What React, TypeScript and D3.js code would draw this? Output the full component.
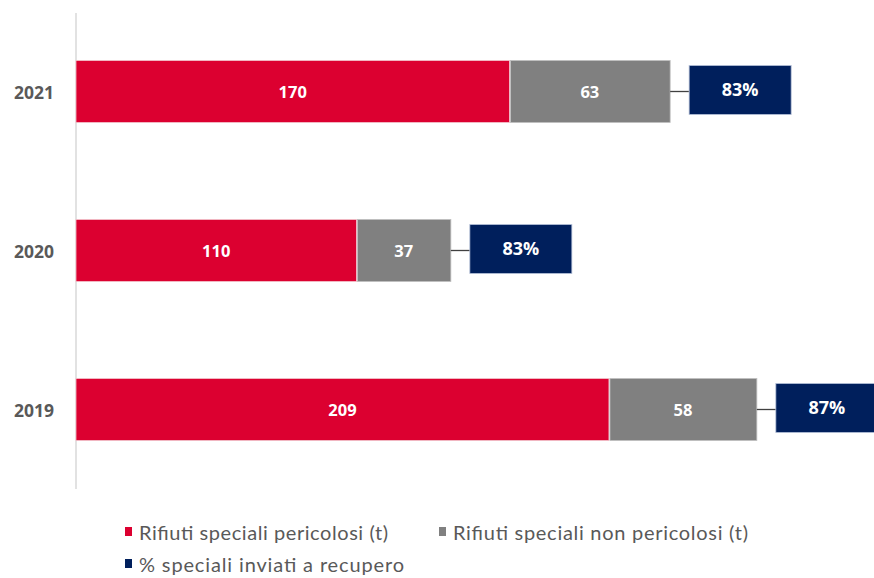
import React from "react";
import * as d3 from "d3";

const years = ["2021", "2020", "2019"];
const pericolosi = [170, 110, 209];
const nonPericolosi = [63, 37, 58];
const recupero = [83, 83, 87];
const legendLabels = [
  "Rifiuti speciali pericolosi (t)",
  "Rifiuti speciali non pericolosi (t)",
  "% speciali inviati a recupero",
];
const colors = ["#DC0030", "#808080", "#001F5C"];

export default function App() {
  const W = 874;
  const H = 578;
  const x0 = 76;
  const x = d3.scaleLinear().domain([0, 300]).range([x0, x0 + 765]);
  const y = d3.scaleBand().domain(years).range([12, 489]).paddingInner(0.61).paddingOuter(0.305);
  const bw = y.bandwidth();
  const labelFont = "'Open Sans', 'DejaVu Sans', sans-serif";
  const legendFont = "'Lato', 'DejaVu Sans', sans-serif";
  const legendPos = [
    [125, 532, 249],
    [439, 532, 295],
    [125, 564, 265],
  ];

  return (
    <svg width={W} height={H} style={{ position: "absolute", left: 0, top: 0, background: "#fff" }}>
      <line x1={x0} x2={x0} y1={13} y2={489} stroke="#d9d9d9" strokeWidth={1.5} />
      {years.map((yr, i) => {
        const yy = y(yr) as number;
        const cy = yy + bw / 2;
        const xr = x(pericolosi[i]);
        const xg = x(pericolosi[i] + nonPericolosi[i]);
        const bx = xg + 19;
        const bwid = 102;
        return (
          <g key={yr}>
            <text x={54} y={cy} textAnchor="end" dominantBaseline="central" fontFamily={labelFont} fontWeight={700} fontSize={17.5} fill="#595959">{yr}</text>
            <rect x={x(0)} y={yy} width={xr - x(0)} height={bw} fill={colors[0]} stroke="#f2c4cc" strokeWidth={0.8} />
            <rect x={xr + 1} y={yy} width={xg - xr - 1} height={bw} fill={colors[1]} stroke="#bfbfbf" strokeWidth={0.8} />
            <line x1={xg} x2={bx} y1={cy} y2={cy} stroke="#404040" strokeWidth={1.3} />
            <rect x={bx} y={cy - 26} width={bwid} height={49} fill={colors[2]} stroke="#b4c0d8" strokeWidth={0.8} />
            <text x={(x(0) + xr) / 2} y={cy} textAnchor="middle" dominantBaseline="central" fontFamily={labelFont} fontWeight={700} fontSize={16.5} fill="#fff">{pericolosi[i]}</text>
            <text x={(xr + xg) / 2} y={cy} textAnchor="middle" dominantBaseline="central" fontFamily={labelFont} fontWeight={700} fontSize={16.5} fill="#fff">{nonPericolosi[i]}</text>
            <text x={bx + bwid / 2} y={cy - 2.5} textAnchor="middle" dominantBaseline="central" fontFamily={labelFont} fontWeight={700} fontSize={18} fill="#fff">{recupero[i] + "%"}</text>
          </g>
        );
      })}
      {legendLabels.map((lab, i) => {
        const pos = legendPos[i];
        return (
          <g key={lab}>
            <rect x={pos[0]} y={pos[1] - 5} width={7} height={9} fill={colors[i]} />
            <text x={pos[0] + 14} y={pos[1]} dominantBaseline="central" fontFamily={legendFont} fontSize={20} fill="#595959" textLength={pos[2]} lengthAdjust="spacing">{lab}</text>
          </g>
        );
      })}
    </svg>
  );
}
